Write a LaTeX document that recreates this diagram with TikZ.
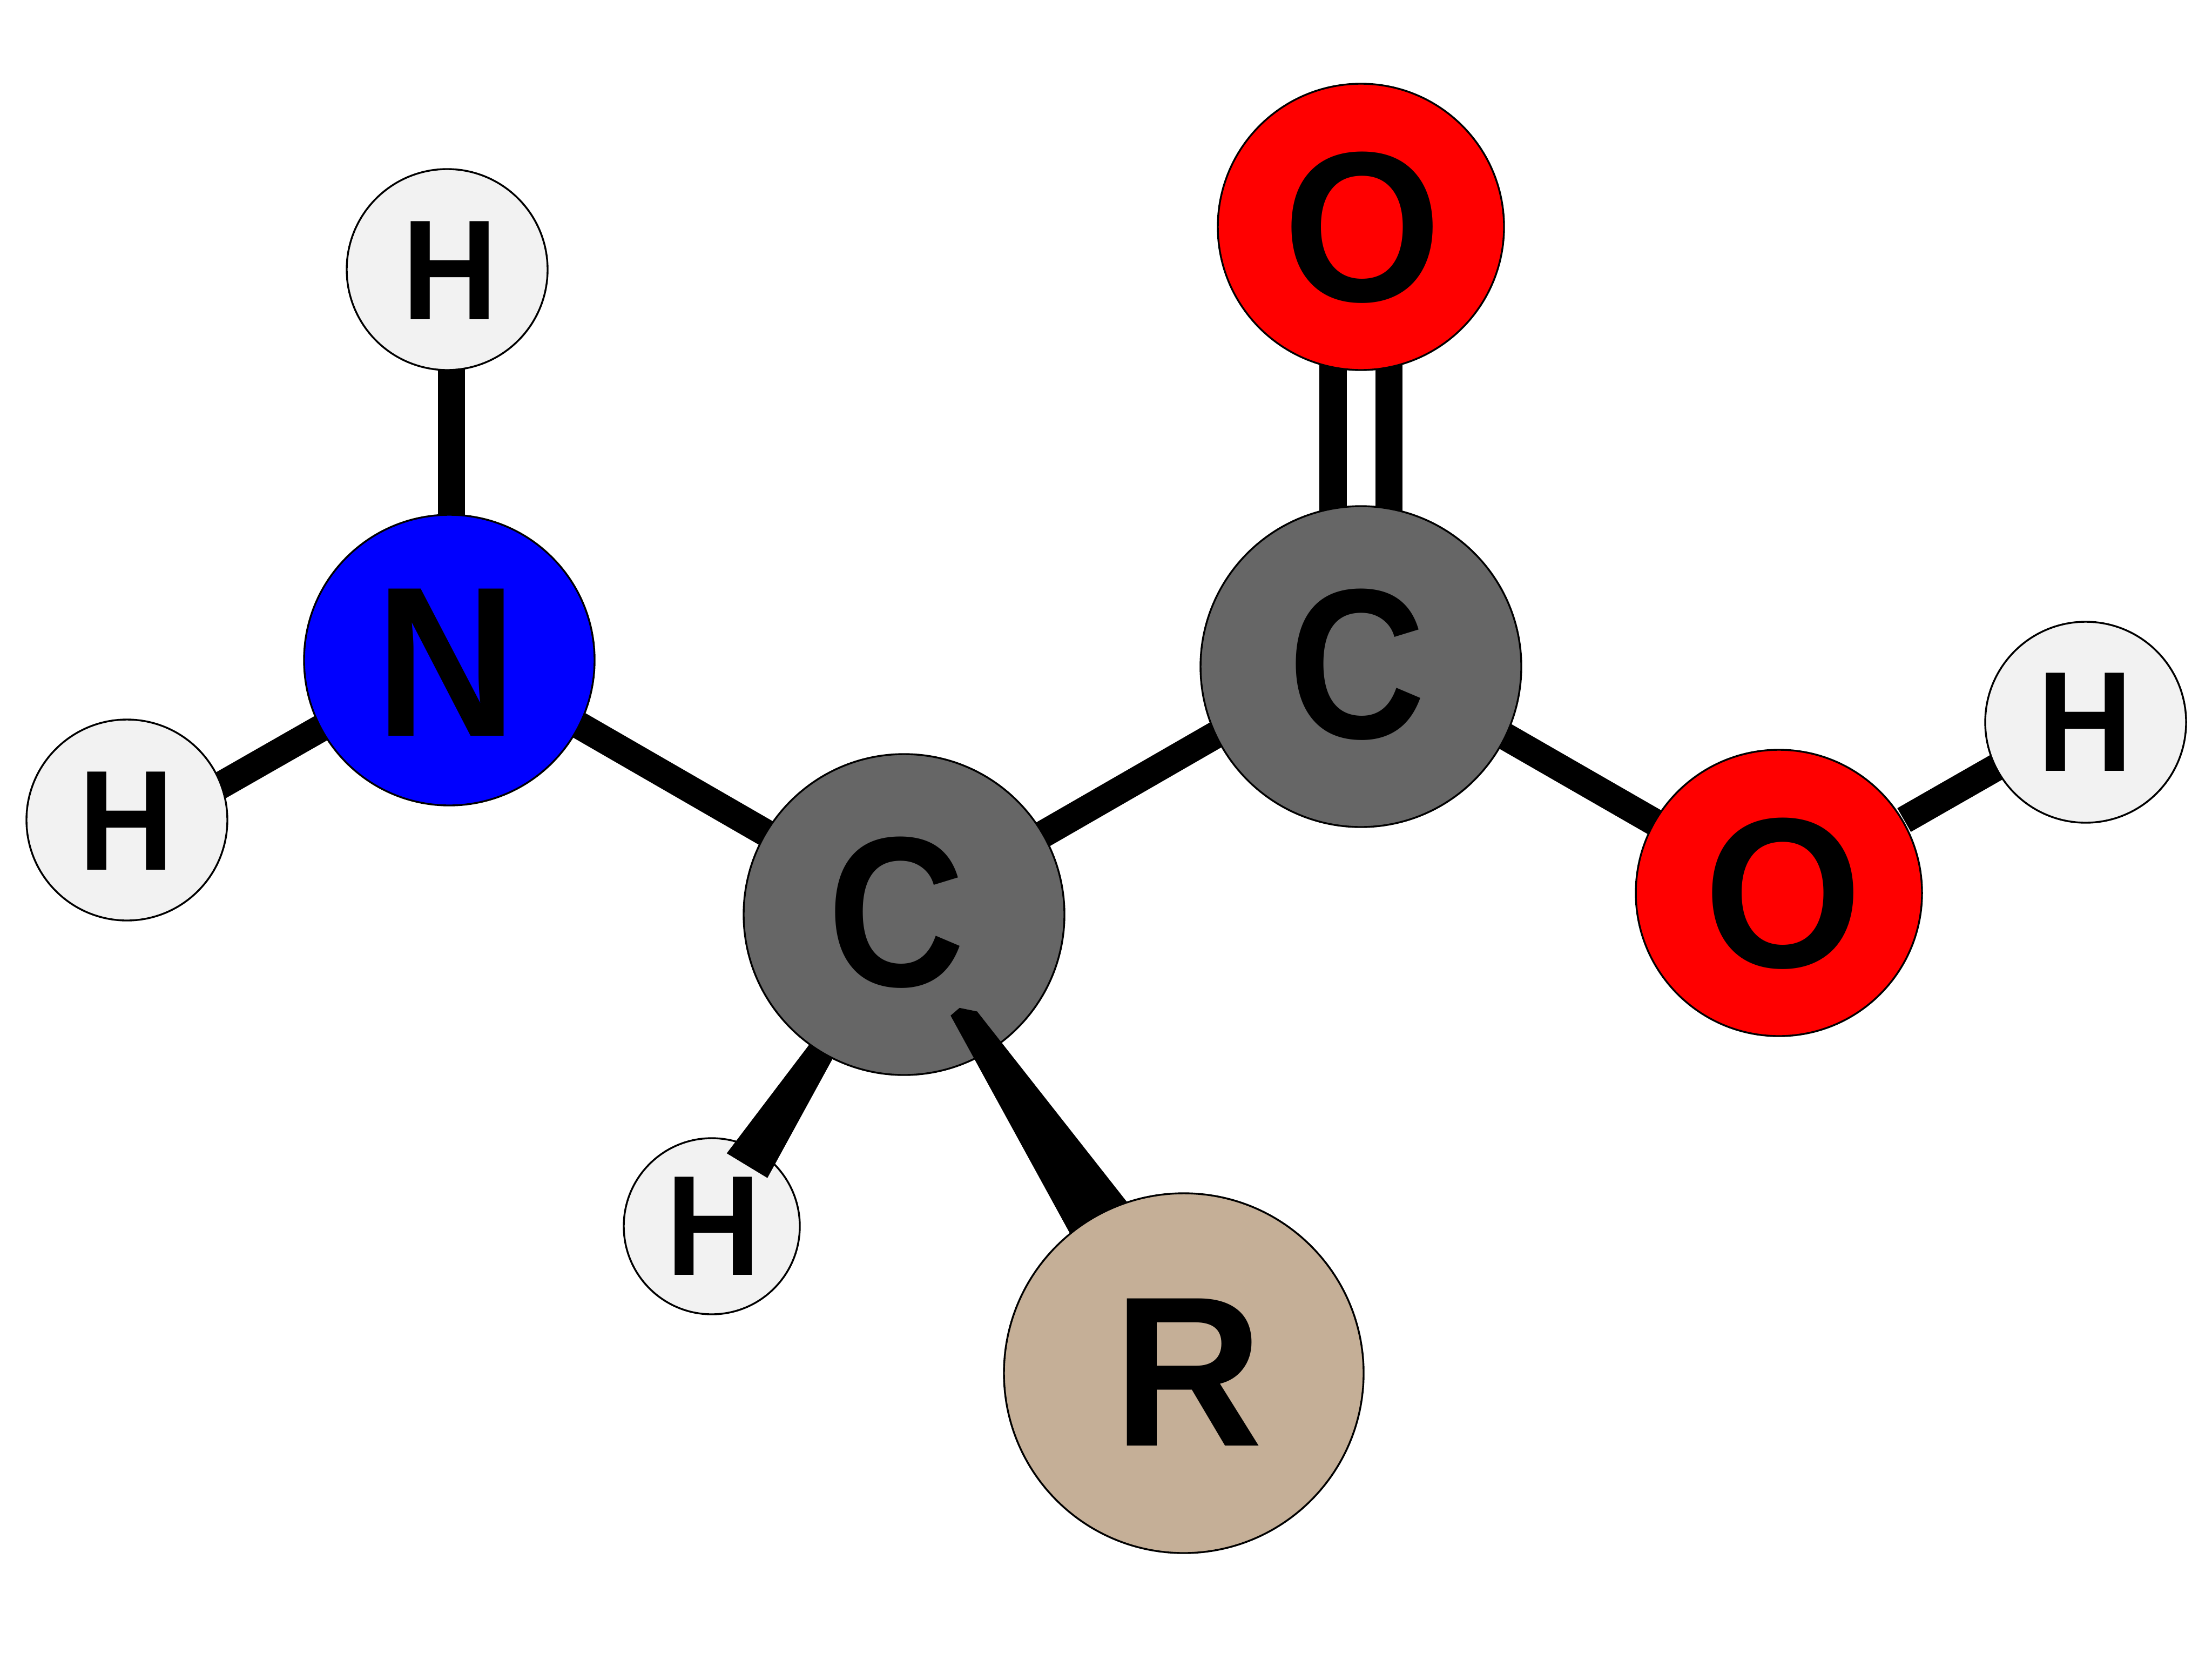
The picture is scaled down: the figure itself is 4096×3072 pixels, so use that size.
\documentclass[tikz,border=0pt]{standalone}
\usepackage{graphicx}
\usepackage{fontspec}
\setmainfont{Liberation Sans}
\pgfdeclarelayer{bonds}
\pgfsetlayers{bonds,main}
% #1 dx, #2 baseline drop, #3 horizontal squeeze, #4 letter
\newcommand{\atomlab}[4]{\raisebox{-#2}[0pt][0pt]{\makebox[0pt][c]{\hspace*{#1}\hspace*{#1}\scalebox{#3}[1]{#4}}}}
\definecolor{hgrey}{HTML}{F2F2F2}
\definecolor{cgrey}{HTML}{666666}
\definecolor{ratom}{HTML}{C5AF97}
\tikzset{
  atom/.style={circle,draw=black,line width=0.85pt,inner sep=0pt,text=black,font=\fontsize{99}{99}\selectfont\bfseries},
  hatom/.style={atom,fill=hgrey,minimum size=93pt,font=\fontsize{66}{66}\selectfont\bfseries},
  catom/.style={atom,fill=cgrey,minimum size=148.5pt},
  oatom/.style={atom,fill=red,minimum size=132.5pt},
  bond/.style={line width=12.65pt,draw=black},
  wedge/.style={fill=black,draw=none}
}
\begin{document}
\begin{tikzpicture}[x=0.25pt,y=-0.25pt]
\useasboundingbox (0,0) rectangle (4096,3072);
\node[hatom] (Htop) at (828,499) {\atomlab{1.3pt}{23pt}{0.93}{H}};
\node[hatom] (Hleft) at (235,1518) {\atomlab{-0.3pt}{23pt}{0.93}{H}};
\node[atom,fill=blue,minimum size=134.5pt] (N) at (832,1222) {\atomlab{-1.3pt}{35pt}{0.916}{N}};
\node[hatom,minimum size=81.5pt] (Hbot) at (1318,2270) {\atomlab{0.85pt}{22.5pt}{0.92}{H}};
\coordinate (wa) at (1537,1883);
\coordinate (wb) at (1569,1910);
\coordinate (wc) at (1421,2180.6);
\coordinate (wd) at (1345.7,2135);
\fill[wedge] (wa) -- (wb) -- (wc) -- (wd) -- cycle;
\node[catom] (Ca) at (1674,1693) {\atomlab{-3.6pt}{33pt}{0.89}{C}};
\node[catom] (Cb) at (2520,1234) {\atomlab{-1.9pt}{33pt}{0.89}{C}};
\node[oatom] (Ot) at (2520,420) {\atomlab{0.8pt}{34.3pt}{0.95}{O}};
\node[oatom] (Or) at (3294,1653) {\atomlab{2pt}{34.3pt}{0.95}{O}};
\node[hatom] (Hr) at (3862,1337) {\atomlab{-0.3pt}{22.5pt}{0.93}{H}};
\coordinate (ra) at (1760.2,1880);
\coordinate (rb) at (1776.8,1865.8);
\coordinate (rc) at (1809.3,1872.4);
\coordinate (rd) at (2141,2294);
\coordinate (re) at (2024.9,2363);
\fill[wedge] (ra) -- (rb) -- (rc) -- (rd) -- (re) -- cycle;
\node[atom,fill=ratom,minimum size=166.5pt] (R) at (2192,2542) {\atomlab{2.15pt}{33.5pt}{0.97}{R}};
\coordinate (OHend) at (3525.8,1518);
\begin{pgfonlayer}{bonds}
\draw[bond] ([shift={(7.8,0)}]Htop.center) -- ([shift={(3.8,0)}]N.center);
\draw[bond] ([shift={(0,35)}]Hleft.center) -- ([shift={(0,-9.8)}]N.center);
\draw[bond] ([shift={(0,-18)}]N.center) -- ([shift={(0,-3.4)}]Ca.center);
\draw[bond] ([shift={(0,-0.5)}]Ca.center) -- ([shift={(0,-28.4)}]Cb.center);
\draw[bond] ([shift={(0,-24.5)}]Cb.center) -- ([shift={(0,1.5)}]Or.center);
\draw[bond] (OHend) -- ([shift={(0,-11.2)}]Hr.center);
\draw[bond] ([xshift=-12.96pt]Cb.center) -- ([xshift=-12.96pt]Ot.center);
\draw[bond] ([xshift=12.96pt]Cb.center) -- ([xshift=12.96pt]Ot.center);
\end{pgfonlayer}
\end{tikzpicture}
\end{document}
